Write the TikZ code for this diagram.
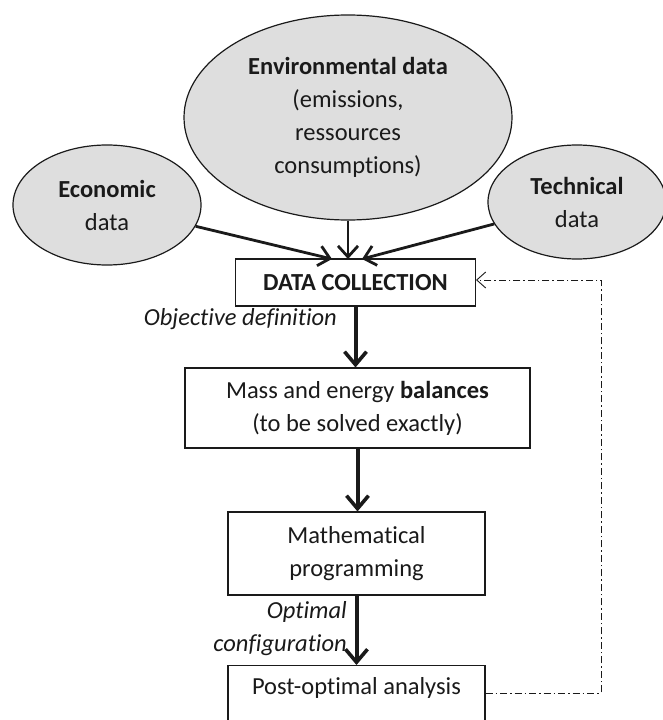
\documentclass[tikz,border=0pt]{standalone}
\usepackage{fontspec}
\setmainfont{Carlito}[RawFeature={-liga}]
\usetikzlibrary{arrows.meta,shapes.geometric}
\definecolor{ellfill}{RGB}{222,222,222}
\definecolor{ink}{RGB}{26,26,26}
\begin{document}
\begin{tikzpicture}[x=1pt,y=-1pt,
  txt/.style={font=\fontsize{24.5}{33}\selectfont, text=ink},
  ell/.style={ellipse, draw=ink, line width=1.2pt, fill=ellfill, inner sep=0pt, align=center, txt},
  box/.style={rectangle, draw=ink, line width=1.1pt, fill=white, inner sep=0pt, align=center, txt},
  thickarrow/.style={draw=ink, line width=4pt, -{Straight Barb[length=13pt,width=22pt,line width=3.6pt]}},
  inarrow/.style={draw=ink, line width=2.8pt, -{Straight Barb[length=11pt,width=20pt,line width=2.8pt]}},
  feedback/.style={draw=ink, line width=0.9pt, dash pattern=on 7pt off 3pt on 1.5pt off 3pt, -{Straight Barb[length=9pt,width=16pt,line width=0.9pt]}},
  lbl/.style={txt, font=\fontsize{24.5}{33}\selectfont\itshape, inner sep=0pt, align=right}
]
\clip (0,0) rectangle (663,720);
\useasboundingbox (0,0) rectangle (663,720);

\node[ell, minimum width=328, minimum height=205] (env) at (348,117.5)
  {\textbf{Environmental data}\\(emissions,\\ressources\\consumptions)};
\node[ell, minimum width=188, minimum height=120] (eco) at (107,205)
  {\textbf{Economic}\\data};
\node[ell, minimum width=178, minimum height=114] (tec) at (577,202)
  {\textbf{Technical}\\data};

\node[box, minimum width=240, minimum height=47] (dc) at (355.5,282.5) {\textbf{DATA COLLECTION}};
\node[box, minimum width=345, minimum height=80] (mass) at (357.5,408)
  {Mass and energy \textbf{balances}\\(to be solved exactly)};
\node[box, minimum width=257, minimum height=83] (math) at (356.5,553.5)
  {Mathematical\\programming};
\node[box, minimum width=257, minimum height=90, anchor=north] (post) at (356.5,665) {};
\node[txt, inner sep=0pt] (posttxt) at (356.5,688) {Post-optimal analysis};

\coordinate (ecoend) at (332,259);
\coordinate (envend) at (348,259);
\coordinate (tecend) at (362,259);
\draw[inarrow] (eco) -- (ecoend);
\draw[inarrow] (env) -- (envend);
\draw[inarrow] (tec) -- (tecend);

\draw[thickarrow] (dc.south) -- (dc.south |- mass.north);
\draw[thickarrow] (mass.south) -- (mass.south |- math.north);
\draw[thickarrow] (math.south) -- (math.south |- post.north);

\node[lbl, anchor=east] (objlbl) at (337,319) {Objective definition};
\node[lbl, anchor=east] (optlbl) at (347,629) {Optimal\\configuration};

\coordinate (fbstart) at (post.east |- 0,693);
\coordinate (fbcorner1) at (601,693);
\coordinate (fbcorner2) at (601,280);
\coordinate (fbend) at (dc.east |- 0,280);
\draw[feedback] (fbstart) -- (fbcorner1) -- (fbcorner2) -- (fbend);
\end{tikzpicture}
\end{document}
